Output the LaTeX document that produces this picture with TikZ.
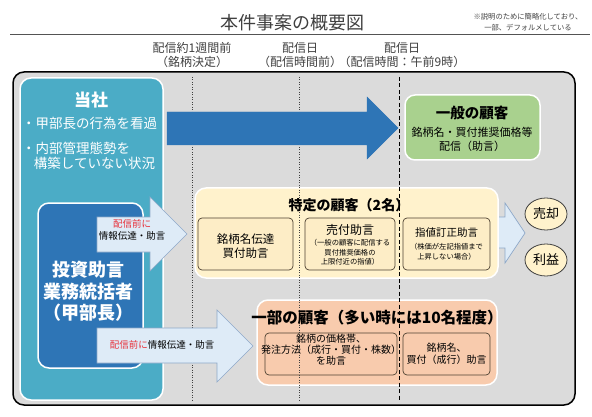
\documentclass[tikz,border=0pt]{standalone}
\usepackage{fontspec}
\setmainfont{Noto Sans CJK JP}
\usetikzlibrary{shapes.geometric}
\newcommand{\fsz}[2]{\fontsize{#1}{#2}\selectfont}
\definecolor{bggray}{HTML}{DBDBDB}
\definecolor{teal1}{HTML}{4BACC6}
\definecolor{dblue}{HTML}{2E75B6}
\definecolor{green1}{HTML}{A9D18E}
\definecolor{yel1}{HTML}{FFF2CC}
\definecolor{yelsub}{HTML}{FDEDC6}
\definecolor{ora1}{HTML}{F8CBAD}
\definecolor{lblue}{HTML}{DEEBF7}
\definecolor{lbedge}{HTML}{8EA8C8}
\definecolor{subedge}{HTML}{4E4232}
\definecolor{txtgray}{HTML}{404040}
\definecolor{red1}{HTML}{E8313A}
\begin{document}
\begin{tikzpicture}[x=1pt,y=-1pt,
  every node/.style={inner sep=0pt, outer sep=0pt, text=black},
  panel/.style={draw=white, line width=1.5pt, rounded corners=11pt},
  subbox/.style={draw=subedge, line width=0.7pt, rounded corners=4pt},
  lbarrow/.style={fill=lblue, draw=lbedge, line width=0.7pt},
  vdot/.style={draw=txtgray, line width=0.6pt, dash pattern=on 1pt off 1.5pt},
  vdash/.style={draw=black, line width=0.9pt, dash pattern=on 4pt off 2.5pt},
  hdr/.style={font=\fsz{12}{14.5}, align=center, text=txtgray},
]
\useasboundingbox (0,0) rectangle (592,417);
\fill[white] (0,0) rectangle (592,417);

% title and note
\node[font=\fsz{18}{20}, text=txtgray] (title) at (292,23) {本件事案の概要図};
\node[font=\fsz{7.3}{11}, align=center, text=txtgray] (note) at (528,22) {※説明のために簡略化しており、\\一部、デフォルメしている};
\draw[draw=txtgray!90, line width=0.9pt] (10,34) -- (590,34);

% column headers
\node[hdr] (h1) at (192,55) {配信約1週間前\\（銘柄決定）};
\node[hdr] (h2) at (300,55) {配信日\\（配信時間前）};
\node[hdr] (h3) at (402,55) {配信日\\（配信時間：午前9時）};

% background panel
\node[draw=black, fill=bggray, line width=1.5pt, rounded corners=11pt, minimum width=562pt, minimum height=333pt] (bg) at (294,238.5) {};

% company panels
\node[panel, fill=teal1, minimum width=143pt, minimum height=322pt] (toushaBox) at (91.5,239) {};
\node[panel, fill=dblue, minimum width=105pt, minimum height=165pt] (bossBox) at (90.5,285.5) {};

% arrow 2 (behind yellow panel)
\draw[lbarrow] (490,217) -- (505,217) -- (505,203) -- (525,233) -- (505,263) -- (505,248) -- (490,248) -- cycle;

% customer panels
\node[panel, fill=green1, minimum width=135pt, minimum height=65pt, rounded corners=10pt] (general) at (472.5,127.5) {};
\node[panel, fill=yel1, minimum width=303pt, minimum height=90pt] (specific) at (346.5,233) {};
\node[subbox, fill=yelsub, minimum width=95pt, minimum height=52pt] (ys1) at (245.5,244) {};
\node[subbox, fill=yelsub, minimum width=90pt, minimum height=52pt] (ys2) at (350,244) {};
\node[subbox, fill=yelsub, minimum width=87pt, minimum height=52pt] (ys3) at (446.5,244) {};
\node[panel, fill=ora1, minimum width=240pt, minimum height=85pt] (some) at (377,342.5) {};
\node[subbox, fill=ora1, minimum width=132pt, minimum height=42pt] (os1) at (331,354) {};
\node[subbox, fill=ora1, minimum width=87pt, minimum height=42pt] (os2) at (446.5,354) {};

% vertical time lines
\draw[vdot] (192,77) -- (192,401);
\draw[vdot] (299,77) -- (299,401);
\draw[vdash] (399,77) -- (399,401);

% block arrows
\draw[fill=dblue, draw=dblue] (167,112) -- (367,112) -- (367,97) -- (398,128) -- (367,159) -- (367,145) -- (167,145) -- cycle;
\draw[lbarrow] (97,217) -- (150,217) -- (150,197) -- (187,234) -- (150,271) -- (150,252) -- (97,252) -- cycle;
\draw[lbarrow] (97,328) -- (217,328) -- (217,310) -- (253,346) -- (217,382) -- (217,363) -- (97,363) -- cycle;

% result ellipses
\node[ellipse, draw=txtgray, fill=yel1, line width=0.8pt, minimum width=42pt, minimum height=32pt, font=\fsz{13}{15}] (sell) at (546,214) {売却};
\node[ellipse, draw=txtgray, fill=yel1, line width=0.8pt, minimum width=42pt, minimum height=32pt, font=\fsz{13}{15}] (profit) at (546,260) {利益};

% company texts
\node[font=\fsz{17}{19}\bfseries, text=white] (toushaT) at (91,100) {当社};
\node[anchor=west, font=\fsz{13.5}{15}, text=white] (b1) at (22,123) {・甲部長の行為を看過};
\node[anchor=west, font=\fsz{13.5}{15}, text=white] (b2) at (22,148) {・内部管理態勢を};
\node[anchor=west, font=\fsz{13.5}{15}, text=white] (b3) at (34,163) {構築していない状況};
\node[font=\fsz{18}{21.5}\bfseries, text=white, align=center] (bossT) at (88,291.5) {投資助言\\業務統括者\\（甲部長）};

% arrow texts
\node[font=\fsz{9.5}{11.5}, align=center] (a1t) at (132,230) {\textcolor{red1}{配信前に}\\情報伝達・助言};
\node[font=\fsz{9.5}{11.5}] (a3t) at (162,345) {\textcolor{red1}{配信前に}情報伝達・助言};

% general customers
\node[font=\fsz{14.5}{16}\bfseries] (genT) at (472,113) {一般の顧客};
\node[font=\fsz{11}{14.5}, align=center] (genS) at (472,139.5) {銘柄名・買付推奨価格等\\配信（助言）};

% specific customers
\node[font=\fsz{14}{16}\bfseries] (specT) at (349,205) {特定の顧客（2名）};
\node[font=\fsz{11.5}{13.5}, align=center] (ys1t) at (245.5,246) {銘柄名伝達\\買付助言};
\node[font=\fsz{12}{14}] (ys2a) at (350,230) {売付助言};
\node[font=\fsz{7.3}{9.5}, align=center] (ys2b) at (350,252.5) {（一般の顧客に配信する\\買付推奨価格の\\上限付近の指値）};
\node[font=\fsz{10.5}{12}] (ys3a) at (446.5,233) {指値訂正助言};
\node[font=\fsz{7.3}{9.5}, align=center] (ys3b) at (446.5,251.5) {（株価が左記指値まで\\上昇しない場合）};

% some customers
\node[font=\fsz{15.5}{17}\bfseries] (someT) at (377,318) {一部の顧客（多い時には10名程度）};
\node[font=\fsz{10}{10.8}, align=center] (os1t) at (331,350) {銘柄の価格帯、\\発注方法（成行・買付・株数）\\を助言};
\node[font=\fsz{10}{11.5}, align=center] (os2t) at (446.5,354) {銘柄名、\\買付（成行）助言};
\end{tikzpicture}
\end{document}
